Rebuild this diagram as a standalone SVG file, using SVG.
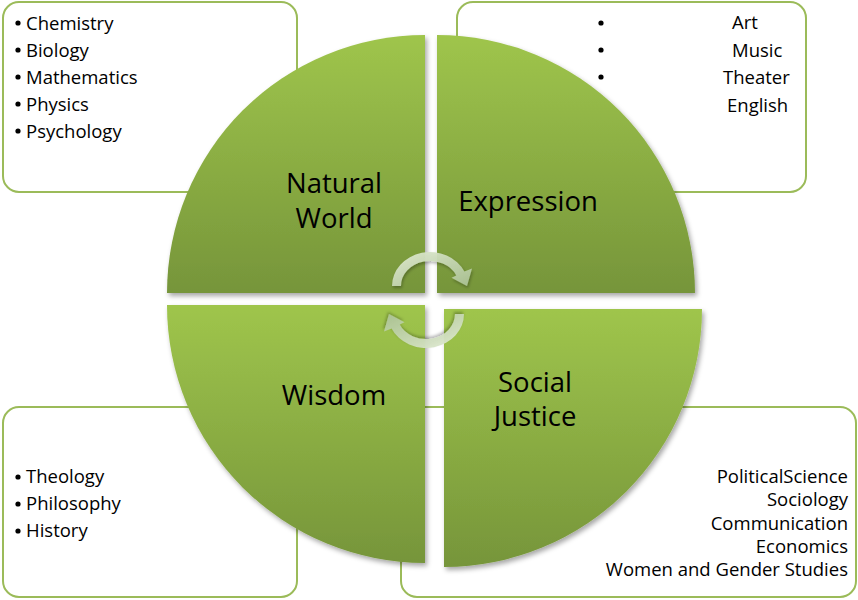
<svg xmlns="http://www.w3.org/2000/svg" xmlns:xlink="http://www.w3.org/1999/xlink" width="858" height="600" viewBox="0 0 858 600">
  <style>
    .box { fill: #ffffff; stroke: #9bbb59; stroke-width: 2; }
    .wedge { fill: url(#wedgeGrad); filter: url(#shadow); }
    .label { font-family: "Open Sans", Lato, "Liberation Sans", sans-serif; font-size: 27.5px; fill: #000000; }
    .item { font-family: "Open Sans", Lato, "Liberation Sans", sans-serif; font-size: 18.5px; fill: #000000; }
    .bullet { fill: #000000; }
    .arrow { fill: url(#arrowGrad); filter: url(#ashadow); }
  </style>
  <defs>
    <linearGradient id="wedgeGrad" x1="0" y1="0" x2="0" y2="1">
      <stop offset="0" stop-color="#9fc54c"/>
      <stop offset="1" stop-color="#76953a"/>
    </linearGradient>
    <linearGradient id="arrowGrad" x1="0" y1="0" x2="1" y2="1">
      <stop offset="0" stop-color="#e2ecd4" stop-opacity="0.95"/>
      <stop offset="1" stop-color="#adc497" stop-opacity="0.9"/>
    </linearGradient>
    <filter id="shadow" x="-10%" y="-10%" width="125%" height="125%">
      <feDropShadow dx="2" dy="3" stdDeviation="2.5" flood-color="#000000" flood-opacity="0.35"/>
    </filter>
    <filter id="ashadow" x="-20%" y="-20%" width="150%" height="150%">
      <feDropShadow dx="1" dy="2" stdDeviation="1.5" flood-color="#000000" flood-opacity="0.3"/>
    </filter>
    <path id="arrow" d="M392,286 A38,34 0 0 1 464.4,271.6 L472,268.5 L467,286 L451.5,277.8 L456.3,275.4 A29,25 0 0 0 401,286 Z"/>
  </defs>

  <!-- text boxes (behind the pie) -->
  <g id="box-natural">
    <rect class="box" x="3" y="2" width="294" height="190" rx="16"/>
    <circle class="bullet" cx="18" cy="23" r="2.6"/>
    <text class="item" x="26" y="30">Chemistry</text>
    <circle class="bullet" cx="18" cy="50" r="2.6"/>
    <text class="item" x="26" y="57">Biology</text>
    <circle class="bullet" cx="18" cy="77" r="2.6"/>
    <text class="item" x="26" y="84">Mathematics</text>
    <circle class="bullet" cx="18" cy="104" r="2.6"/>
    <text class="item" x="26" y="111">Physics</text>
    <circle class="bullet" cx="18" cy="131" r="2.6"/>
    <text class="item" x="26" y="138">Psychology</text>
  </g>
  <g id="box-expression">
    <rect class="box" x="457" y="2" width="349" height="190" rx="16"/>
    <circle class="bullet" cx="601" cy="23" r="2.6"/>
    <circle class="bullet" cx="601" cy="50" r="2.6"/>
    <circle class="bullet" cx="601" cy="77" r="2.6"/>
    <text class="item" x="732" y="29">Art</text>
    <text class="item" x="732" y="57">Music</text>
    <text class="item" x="723" y="84">Theater</text>
    <text class="item" x="727" y="112">English</text>
  </g>
  <g id="box-wisdom">
    <rect class="box" x="3" y="407" width="294" height="190" rx="16"/>
    <circle class="bullet" cx="18" cy="477" r="2.6"/>
    <text class="item" x="26" y="483">Theology</text>
    <circle class="bullet" cx="18" cy="504" r="2.6"/>
    <text class="item" x="26" y="510">Philosophy</text>
    <circle class="bullet" cx="18" cy="531" r="2.6"/>
    <text class="item" x="26" y="537">History</text>
  </g>
  <g id="box-justice">
    <rect class="box" x="401" y="407" width="455" height="190" rx="16"/>
    <text class="item" x="848" y="483" text-anchor="end">PoliticalScience</text>
    <text class="item" x="848" y="506" text-anchor="end">Sociology</text>
    <text class="item" x="848" y="530" text-anchor="end">Communication</text>
    <text class="item" x="848" y="553" text-anchor="end">Economics</text>
    <text class="item" x="848" y="576" text-anchor="end">Women and Gender Studies</text>
  </g>

  <!-- pie quadrants -->
  <g id="natural-world">
    <path class="wedge" d="M425,293 L167,293 A258,258 0 0 1 425,35 Z"/>
    <text class="label" x="334" y="193" text-anchor="middle">Natural</text>
    <text class="label" x="334" y="228" text-anchor="middle">World</text>
  </g>
  <g id="expression">
    <path class="wedge" d="M437,293 L437,35 A258,258 0 0 1 695,293 Z"/>
    <text class="label" x="528" y="211" text-anchor="middle">Expression</text>
  </g>
  <g id="wisdom">
    <path class="wedge" d="M425,305 L425,563 A258,258 0 0 1 167,305 Z"/>
    <text class="label" x="334" y="405" text-anchor="middle">Wisdom</text>
  </g>
  <g id="social-justice">
    <path class="wedge" d="M444,309 L702,309 A258,258 0 0 1 444,567 Z"/>
    <text class="label" x="535" y="392" text-anchor="middle">Social</text>
    <text class="label" x="535" y="426" text-anchor="middle">Justice</text>
  </g>

  <!-- cycle arrows -->
  <g id="connectors">
    <use class="arrow" xlink:href="#arrow"/>
    <use class="arrow" xlink:href="#arrow" transform="rotate(180 428 300)"/>
  </g>
</svg>
